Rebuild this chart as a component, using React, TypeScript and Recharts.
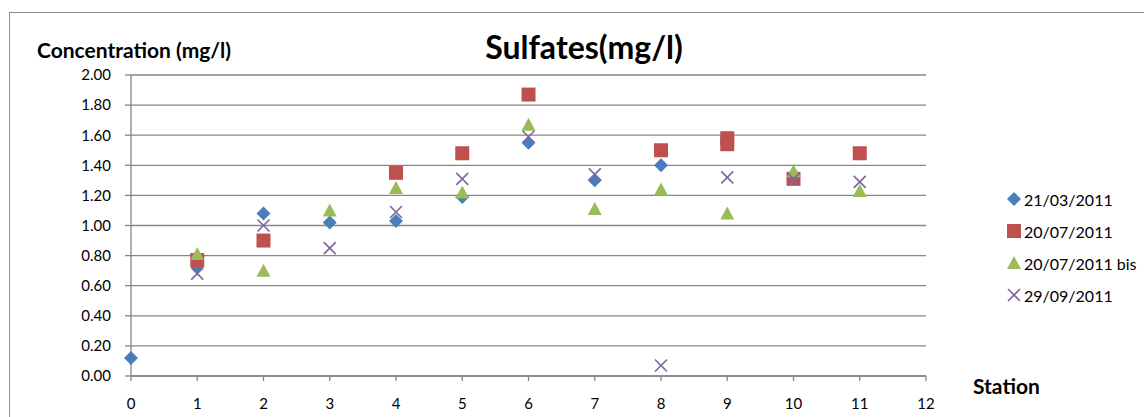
import React from "react";
import { ScatterChart, Scatter, XAxis, YAxis, CartesianGrid } from "recharts";

// stations (x) and concentrations (y) per sampling date
const xTicks = [0, 1, 2, 3, 4, 5, 6, 7, 8, 9, 10, 11, 12];
const yTicks = [0, 0.2, 0.4, 0.6, 0.8, 1.0, 1.2, 1.4, 1.6, 1.8, 2.0];

const marchStations = [0, 1, 2, 3, 4, 5, 6, 7, 8];
const marchValues = [0.12, 0.73, 1.08, 1.02, 1.03, 1.19, 1.55, 1.3, 1.4];

const julyStations = [1, 2, 4, 5, 6, 8, 9, 9, 10, 11];
const julyValues = [0.77, 0.9, 1.35, 1.48, 1.87, 1.5, 1.58, 1.54, 1.31, 1.48];

const julyBisStations = [1, 2, 3, 4, 5, 6, 7, 8, 9, 10, 11];
const julyBisValues = [0.81, 0.7, 1.1, 1.25, 1.22, 1.67, 1.11, 1.24, 1.08, 1.36, 1.23];

const septStations = [1, 2, 3, 4, 5, 6, 7, 8, 9, 10, 11];
const septValues = [0.68, 1.0, 0.85, 1.09, 1.31, 1.59, 1.34, 0.07, 1.32, 1.31, 1.29];

const toPoints = (xs: number[], ys: number[]) => xs.map((x, i) => ({ x, y: ys[i] }));

type MarkerKind = "diamond" | "square" | "triangle" | "cross";

const marker = (kind: MarkerKind, color: string, cx: number, cy: number) => {
  switch (kind) {
    case "diamond":
      return <path d={`M${cx},${cy - 7}L${cx + 7},${cy}L${cx},${cy + 7}L${cx - 7},${cy}Z`} fill={color} />;
    case "square":
      return <rect x={cx - 7} y={cy - 7} width={14} height={14} fill={color} />;
    case "triangle":
      return <path d={`M${cx},${cy - 7}L${cx + 7},${cy + 6}L${cx - 7},${cy + 6}Z`} fill={color} />;
    default:
      return (
        <path
          d={`M${cx - 6},${cy - 6}L${cx + 6},${cy + 6}M${cx + 6},${cy - 6}L${cx - 6},${cy + 6}`}
          stroke={color}
          strokeWidth={1.6}
          fill="none"
        />
      );
  }
};

const series = [
  { name: "21/03/2011", color: "#4A7EBB", kind: "diamond" as MarkerKind, data: toPoints(marchStations, marchValues) },
  { name: "20/07/2011", color: "#C0504D", kind: "square" as MarkerKind, data: toPoints(julyStations, julyValues) },
  { name: "20/07/2011 bis", color: "#9BBB59", kind: "triangle" as MarkerKind, data: toPoints(julyBisStations, julyBisValues) },
  { name: "29/09/2011", color: "#8064A2", kind: "cross" as MarkerKind, data: toPoints(septStations, septValues) },
];

const font = "Lato, 'Open Sans', sans-serif";
const grey = "#868686";

export default function App() {
  return (
    <div
      style={{
        position: "absolute",
        left: 0,
        top: 0,
        width: 1144,
        height: 417,
        overflow: "hidden",
        background: "#fff",
        fontFamily: font,
      }}
    >
      {/* chart frame */}
      <div style={{ position: "absolute", left: 9, top: 12, width: 1300, height: 600, border: "1px solid #8c8c8c" }} />

      <div style={{ position: "absolute", left: 0, top: 0 }}>
        <ScatterChart width={1144} height={417} margin={{ top: 75, right: 218, bottom: 0, left: 0 }}>
          <CartesianGrid vertical={false} stroke={grey} strokeWidth={1.3} />
          <XAxis
            type="number"
            dataKey="x"
            domain={[0, 12]}
            ticks={xTicks}
            interval={0}
            height={41}
            stroke={grey}
            strokeWidth={1.3}
            tickSize={5}
            tickMargin={17}
            tick={{ fill: "#000", fontSize: 15, fontFamily: font }}
          />
          <YAxis
            type="number"
            dataKey="y"
            domain={[0, 2]}
            ticks={yTicks}
            interval={0}
            width={131}
            stroke={grey}
            strokeWidth={1.3}
            tickSize={6}
            tickMargin={14}
            tickFormatter={(v: number) => v.toFixed(2)}
            tick={{ fill: "#000", fontSize: 15, fontFamily: font }}
          />
          {series.map((s) => (
            <Scatter
              key={s.name}
              name={s.name}
              data={s.data}
              fill={s.color}
              isAnimationActive={false}
              shape={(p: any) => marker(s.kind, s.color, p.cx, p.cy)}
            />
          ))}
        </ScatterChart>
      </div>

      <div style={{ position: "absolute", left: 0, width: 1168, top: 27, textAlign: "center", fontSize: 32, fontWeight: 700 }}>
        Sulfates(mg/l)
      </div>
      <div style={{ position: "absolute", left: 37, top: 37, fontSize: 21, fontWeight: 700 }}>Concentration (mg/l)</div>
      <div style={{ position: "absolute", left: 973, top: 373, fontSize: 21, fontWeight: 700 }}>Station</div>

      {/* legend */}
      <div style={{ position: "absolute", left: 1005, top: 183 }}>
        {series.map((s) => (
          <div key={s.name} style={{ display: "flex", alignItems: "center", height: 32, fontSize: 16, whiteSpace: "nowrap" }}>
            <svg width={18} height={18} style={{ marginRight: 1 }}>
              {marker(s.kind, s.color, 9, 9)}
            </svg>
            <span>{s.name}</span>
          </div>
        ))}
      </div>
    </div>
  );
}
